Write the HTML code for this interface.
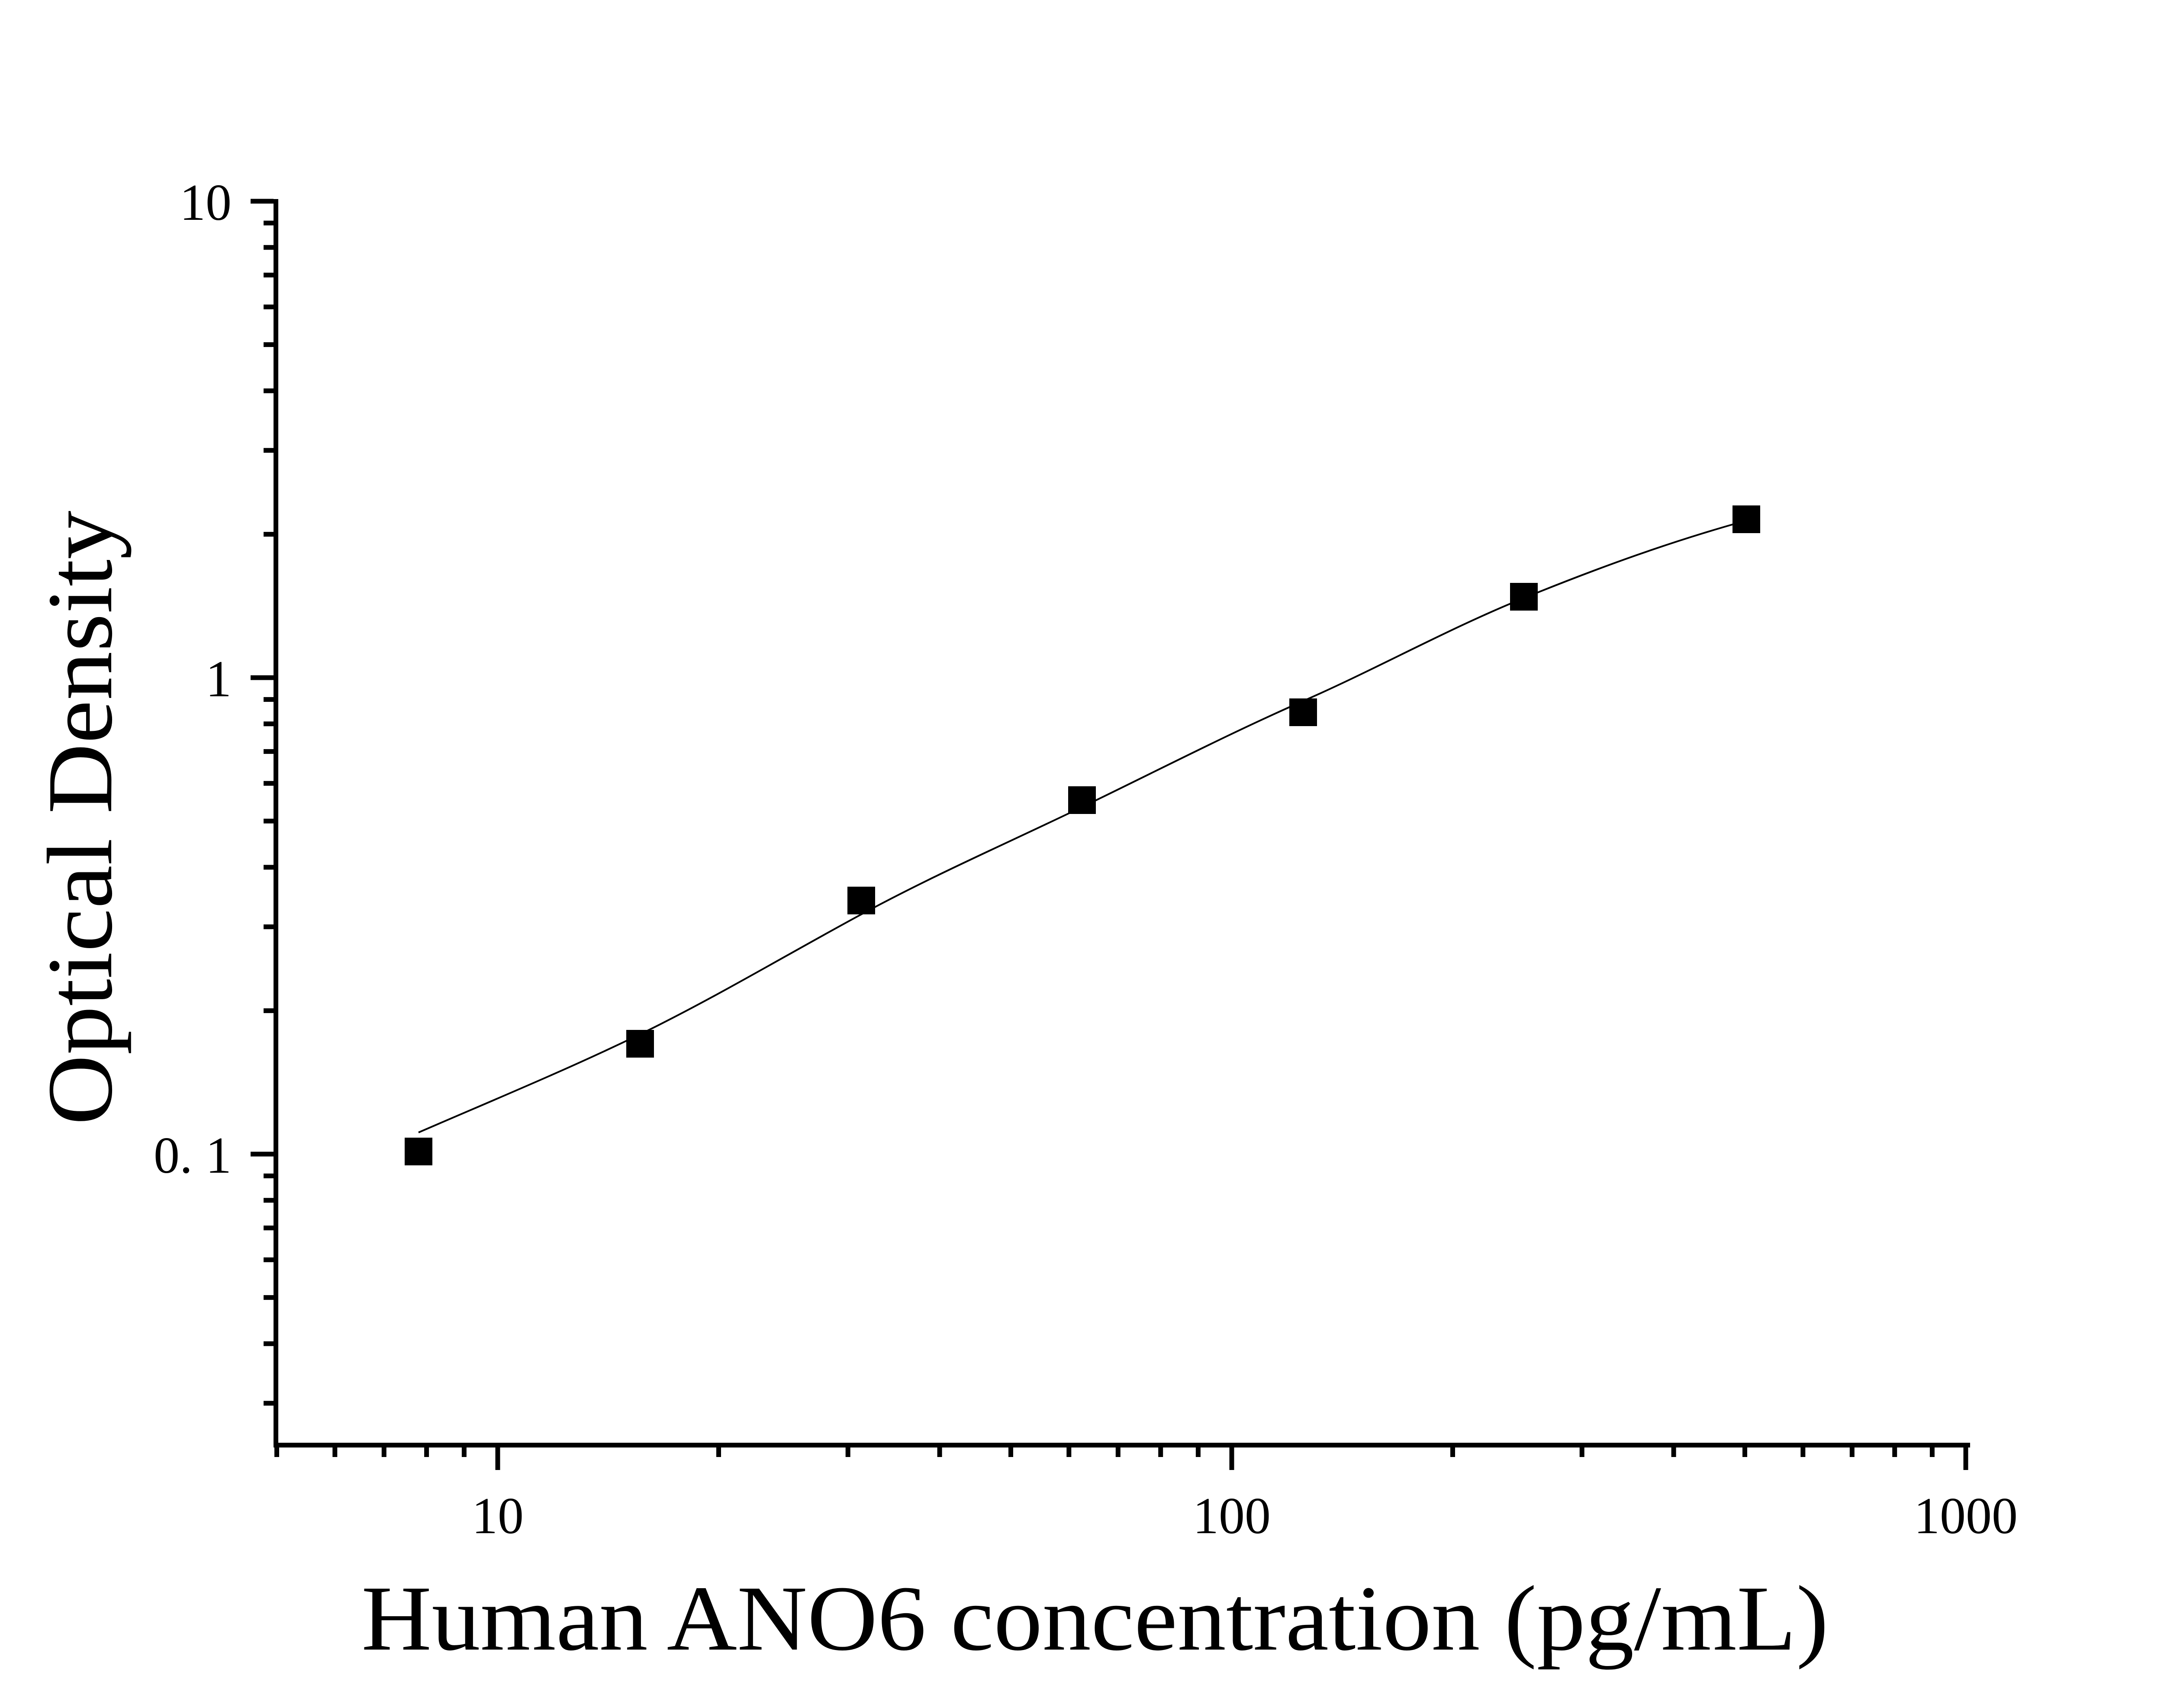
<!DOCTYPE html>
<html><head><meta charset="utf-8"><style>html,body{margin:0;padding:0;background:#fff}svg{display:block}</style></head>
<body>
<svg xmlns="http://www.w3.org/2000/svg" width="5025" height="3947" viewBox="0 0 5025 3947">
<rect width="5025" height="3947" fill="#fff"/>
<g stroke="#000" stroke-width="11" fill="none">
<line x1="637.5" y1="460" x2="637.5" y2="3345"/>
<line x1="632" y1="3339.5" x2="4552" y2="3339.5"/>
<line x1="579" y1="465" x2="632" y2="465"/>
<line x1="579" y1="1566" x2="632" y2="1566"/>
<line x1="579" y1="2667" x2="632" y2="2667"/>
<path d="M609,515.4H632M609,571.7H632M609,635.6H632M609,709.3H632M609,796.4H632M609,903.1H632M609,1040.7H632M609,1234.6H632
M609,1616.4H632M609,1672.7H632M609,1736.6H632M609,1810.3H632M609,1897.4H632M609,2004.1H632M609,2141.7H632M609,2335.6H632
M609,2717.4H632M609,2773.7H632M609,2837.6H632M609,2911.3H632M609,2998.4H632M609,3105.1H632M609,3242.7H632"/>
<path d="M1150,3345V3397M2846,3345V3397M4542,3345V3397"/>
<path d="M639.5,3345V3367M773.8,3345V3367M887.3,3345V3367M985.6,3345V3367M1072.4,3345V3367
M1660.5,3345V3367M1959.2,3345V3367M2171.1,3345V3367M2335.5,3345V3367M2469.8,3345V3367M2583.3,3345V3367M2681.7,3345V3367M2768.4,3345V3367
M3356.5,3345V3367M3655.2,3345V3367M3867.1,3345V3367M4031.5,3345V3367M4165.8,3345V3367M4279.3,3345V3367M4377.7,3345V3367M4464.4,3345V3367"/>
</g>
<path d="M967,2617 C1140,2542 1310,2472 1479,2390 S1818,2206 1990,2113 S2326,1949 2500,1865 S2836,1697 3011,1620 S3344,1454 3521,1382 S3862,1251 4035,1203" fill="none" stroke="#000" stroke-width="4"/>
<g fill="#000">
<rect x="935" y="2629" width="64" height="64"/>
<rect x="1447" y="2380" width="64" height="64"/>
<rect x="1958" y="2049" width="64" height="64"/>
<rect x="2468" y="1817" width="64" height="64"/>
<rect x="2979" y="1614" width="64" height="64"/>
<rect x="3489" y="1347" width="64" height="64"/>
<rect x="4003" y="1168" width="64" height="64"/>
</g>
<g font-family="Liberation Serif, serif" font-size="120" fill="#000">
<text x="535" y="508" text-anchor="end">10</text>
<text x="535" y="1609" text-anchor="end">1</text>
<text x="535" y="2710" text-anchor="end">0. 1</text>
<text x="1150" y="3543" text-anchor="middle">10</text>
<text x="2846" y="3543" text-anchor="middle">100</text>
<text x="4542" y="3543" text-anchor="middle">1000</text>
</g>
<text x="835" y="3812" font-family="Liberation Serif, serif" font-size="215" fill="#000" textLength="3390" lengthAdjust="spacingAndGlyphs">Human ANO6 concentration (pg/mL)</text>
<text transform="translate(257,2600) rotate(-90)" x="0" y="0" font-family="Liberation Serif, serif" font-size="215" fill="#000" textLength="1420" lengthAdjust="spacingAndGlyphs">Optical Density</text>
</svg>
</body></html>
